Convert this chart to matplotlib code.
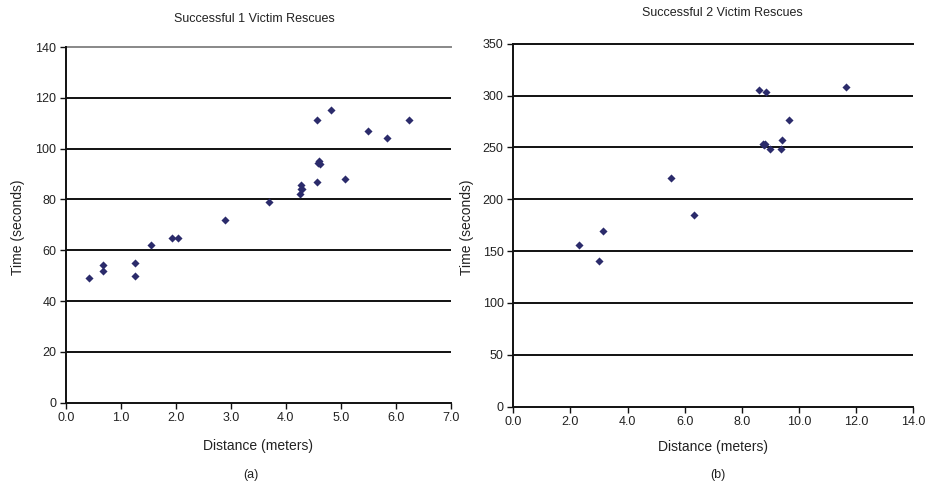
import matplotlib
matplotlib.use("Agg")
import matplotlib.pyplot as plt
from matplotlib.ticker import FormatStrFormatter

plt.rcParams['font.family'] = ['Liberation Sans', 'DejaVu Sans']

# Panel (a): Successful 1 victim rescues
dist1 = [0.42, 0.67, 0.67, 1.25, 1.25, 1.55, 1.92, 2.04, 2.90, 3.70,
         4.27, 4.27, 4.30, 4.26, 4.57, 4.57, 4.82, 4.61, 4.59, 4.62,
         5.08, 5.50, 5.85, 6.25]
time1 = [49.2, 54.2, 52.0, 55.0, 49.9, 62.1, 64.8, 64.8, 71.9, 79.0,
         85.6, 84.0, 84.0, 82.3, 86.9, 111.1, 115.1, 95.3, 94.2, 94.0,
         88.0, 106.8, 104.1, 111.1]

# Panel (b): Successful 2 victim rescues
dist2 = [2.29, 3.01, 3.13, 5.51, 6.31, 8.59, 8.84, 8.74, 8.82, 8.79,
         8.97, 9.36, 9.39, 9.66, 11.63]
time2 = [155.6, 140.8, 169.1, 220.5, 184.5, 305.0, 303.1, 253.6, 253.6, 252.5,
         248.1, 248.8, 257.2, 276.8, 308.3]

xticks1 = [0, 1, 2, 3, 4, 5, 6, 7]
yticks1 = [0, 20, 40, 60, 80, 100, 120, 140]
xticks2 = [0, 2, 4, 6, 8, 10, 12, 14]
yticks2 = [0, 50, 100, 150, 200, 250, 300, 350]

W, H = 927, 487
fig = plt.figure(figsize=(W / 100, H / 100), dpi=100)

marker_color = '#2b2b6b'
text_color = '#222222'


def setup(ax, xt, yt, xfmt, top_color):
    ax.set_xlim(xt[0], xt[-1])
    ax.set_ylim(yt[0], yt[-1])
    ax.set_xticks(xt)
    ax.set_yticks(yt)
    ax.xaxis.set_major_formatter(FormatStrFormatter(xfmt))
    for y in yt[1:-1]:
        ax.axhline(y, color='#111111', lw=1.4, zorder=1)
    ax.axhline(yt[-1], color=top_color, lw=1.4, zorder=1, clip_on=False)
    for s in ['top', 'right']:
        ax.spines[s].set_visible(False)
    for s in ['left', 'bottom']:
        ax.spines[s].set_linewidth(1.4)
        ax.spines[s].set_color('#111111')
    ax.tick_params(direction='out', length=4, width=1.0, labelsize=9,
                   colors='#111111', labelcolor=text_color, pad=3)


# left axes
ax1 = fig.add_axes([66 / W, 1 - 402.7 / H, (450.7 - 66) / W, (402.7 - 47) / H])
setup(ax1, xticks1, yticks1, '%.1f', '#888888')
ax1.scatter(dist1, time1, marker='D', s=17, color=marker_color, zorder=3, linewidths=0)

# right axes
ax2 = fig.add_axes([513.3 / W, 1 - 406.7 / H, (913.3 - 513.3) / W, (406.7 - 43.7) / H])
setup(ax2, xticks2, yticks2, '%.1f', '#111111')
ax2.scatter(dist2, time2, marker='D', s=17, color=marker_color, zorder=3, linewidths=0)


def ftext(x, y, s, **kw):
    fig.text(x / W, 1 - y / H, s, ha='center', va='center', color=text_color, **kw)


ftext(254, 19, 'Successful 1 Victim Rescues', fontsize=9)
ftext(722, 13, 'Successful 2 Victim Rescues', fontsize=9)
ftext(258, 446, 'Distance (meters)', fontsize=10)
ftext(713, 447, 'Distance (meters)', fontsize=10)
ftext(18, 227, 'Time (seconds)', fontsize=10, rotation=90)
ftext(467, 227, 'Time (seconds)', fontsize=10, rotation=90)
ftext(251, 475, '(a)', fontsize=9)
ftext(718, 475, '(b)', fontsize=9)

fig.savefig('out.png', dpi=100)
